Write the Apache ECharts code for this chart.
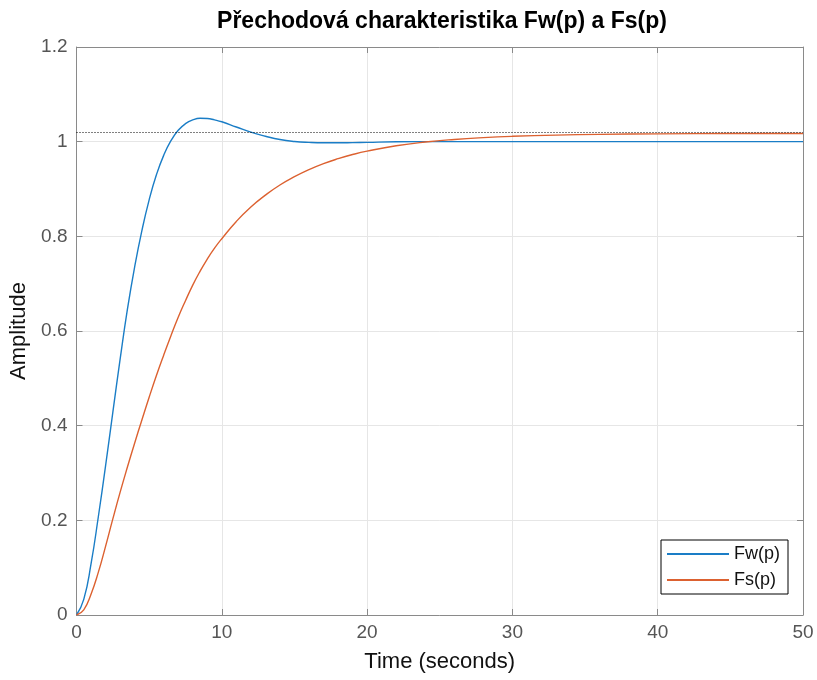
<!DOCTYPE html>
<html>
<head>
<meta charset="utf-8">
<script src="https://cdn.jsdelivr.net/npm/echarts@6/dist/echarts.min.js"></script>
<style>html,body{margin:0;padding:0;background:#fff}#c{width:817px;height:680px}</style>
</head>
<body>
<div id="c"></div>
<script>
// Fw(p) step response (time, amplitude)
const tFw = [0,0.5,1,1.5,2,2.5,3,3.5,4,4.5,5,5.5,6,6.5,7,7.5,8,8.5,9,9.5,10,11,12,13,14,15,16,17,18,19,20,22,25,30,35,40,45,50];
const fw  = [0,0.033,0.108,0.207,0.315,0.428,0.54,0.645,0.735,0.812,0.877,0.93,0.971,1.002,1.024,1.038,1.046,1.0495,1.049,1.046,1.042,1.031,1.02,1.0115,1.0045,1.0004,0.9984,0.9976,0.9976,0.998,0.9986,0.9997,1.0001,1.0,1.0,1.0,1.0,1.0];
// Fs(p) step response (time, amplitude)
const tFs = [0,0.5,1,1.5,2,2.5,3,3.5,4,4.5,5,5.5,6,6.5,7,7.5,8,8.5,9,9.5,10,11,12,13,14,15,16,17,18,19,20,22,24,26,28,30,33,36,40,45,50];
const fs  = [0,0.011,0.044,0.09,0.145,0.203,0.259,0.312,0.363,0.412,0.46,0.506,0.549,0.59,0.629,0.664,0.697,0.726,0.752,0.775,0.795,0.8315,0.862,0.887,0.9085,0.926,0.941,0.9536,0.964,0.9728,0.98,0.9913,0.9992,1.0047,1.0086,1.0113,1.0139,1.0154,1.0165,1.0172,1.0174];
// steady-state reference (dotted line)
const fsFinal = [1.0176];
const seriesNames = ['Fw(p)', 'Fs(p)'];
const xTicks = [0, 10, 20, 30, 40, 50];
const yTicks = [0, 0.2, 0.4, 0.6, 0.8, 1, 1.2];
const titleText = 'Přechodová charakteristika Fw(p) a Fs(p)';

const zip = (a, b) => a.map((v, i) => [v, b[i]]);
const FONT = 'Liberation Sans, Arial, sans-serif';
const axisCol = '#8a8a8a';
const labCol = '#555555';

const chart = echarts.init(document.getElementById('c'), null, {renderer: 'canvas'});
const baseX = {min: xTicks[0], max: xTicks[xTicks.length-1], interval: 10};
const baseY = {min: yTicks[0], max: yTicks[yTicks.length-1], interval: 0.2};
chart.setOption({
  animation: false,
  backgroundColor: '#fff',
  title: {
    text: titleText, left: 437, textAlign: 'center', top: 5,
    textStyle: {fontFamily: FONT, fontSize: 23, fontWeight: 'bold', color: '#000'}
  },
  grid: {left: 76.5, right: 14, top: 47, bottom: 65},
  legend: {
    data: seriesNames, orient: 'vertical', right: 29, top: 540,
    icon: 'rect', itemWidth: 62, itemHeight: 2, itemGap: 8,
    padding: [5, 8, 5, 6],
    borderColor: '#000', borderWidth: 1, backgroundColor: '#fff',
    textStyle: {fontFamily: FONT, fontSize: 18, color: '#111', lineHeight: 18}
  },
  xAxis: [
    Object.assign({type: 'value', position: 'bottom',
      name: 'Time (seconds)', nameLocation: 'middle', nameGap: 36,
      nameTextStyle: {fontFamily: FONT, fontSize: 22, color: '#111'},
      axisLine: {show: true, onZero: false, lineStyle: {color: axisCol, width: 1}},
      axisTick: {show: true, inside: true, length: 6, lineStyle: {color: axisCol}},
      axisLabel: {fontFamily: FONT, fontSize: 19, color: labCol, margin: 8},
      splitLine: {show: true, lineStyle: {color: '#e6e6e6', width: 1}}
    }, baseX),
    Object.assign({type: 'value', position: 'top',
      axisLine: {show: true, onZero: false, lineStyle: {color: axisCol, width: 1}},
      axisTick: {show: true, inside: true, length: 6, lineStyle: {color: axisCol}},
      axisLabel: {show: false}, splitLine: {show: false}
    }, baseX)
  ],
  yAxis: [
    Object.assign({type: 'value', position: 'left',
      name: 'Amplitude', nameLocation: 'middle', nameGap: 37,
      nameTextStyle: {fontFamily: FONT, fontSize: 22, color: '#111'},
      axisLine: {show: true, onZero: false, lineStyle: {color: axisCol, width: 1}},
      axisTick: {show: true, inside: true, length: 6, lineStyle: {color: axisCol}},
      axisLabel: {fontFamily: FONT, fontSize: 19, color: labCol, margin: 9,
        formatter: v => String(Math.round(v * 10) / 10)},
      splitLine: {show: true, lineStyle: {color: '#e6e6e6', width: 1}}
    }, baseY),
    Object.assign({type: 'value', position: 'right',
      axisLine: {show: true, onZero: false, lineStyle: {color: axisCol, width: 1}},
      axisTick: {show: true, inside: true, length: 6, lineStyle: {color: axisCol}},
      axisLabel: {show: false}, splitLine: {show: false}
    }, baseY)
  ],
  series: [
    {
      name: seriesNames[0], type: 'line', data: zip(tFw, fw), smooth: 0.5,
      showSymbol: false, symbol: 'none', color: '#1a7dc6',
      lineStyle: {width: 1.4, color: '#1a7dc6'},
      markLine: {
        silent: true, symbol: ['none', 'none'], label: {show: false},
        lineStyle: {type: [1, 2], color: '#000', width: 1},
        data: [{yAxis: fsFinal[0]}]
      }
    },
    {
      name: seriesNames[1], type: 'line', data: zip(tFs, fs), smooth: 0.5,
      showSymbol: false, symbol: 'none', color: '#dc6130',
      lineStyle: {width: 1.4, color: '#dc6130'}
    }
  ]
});
</script>
</body>
</html>
